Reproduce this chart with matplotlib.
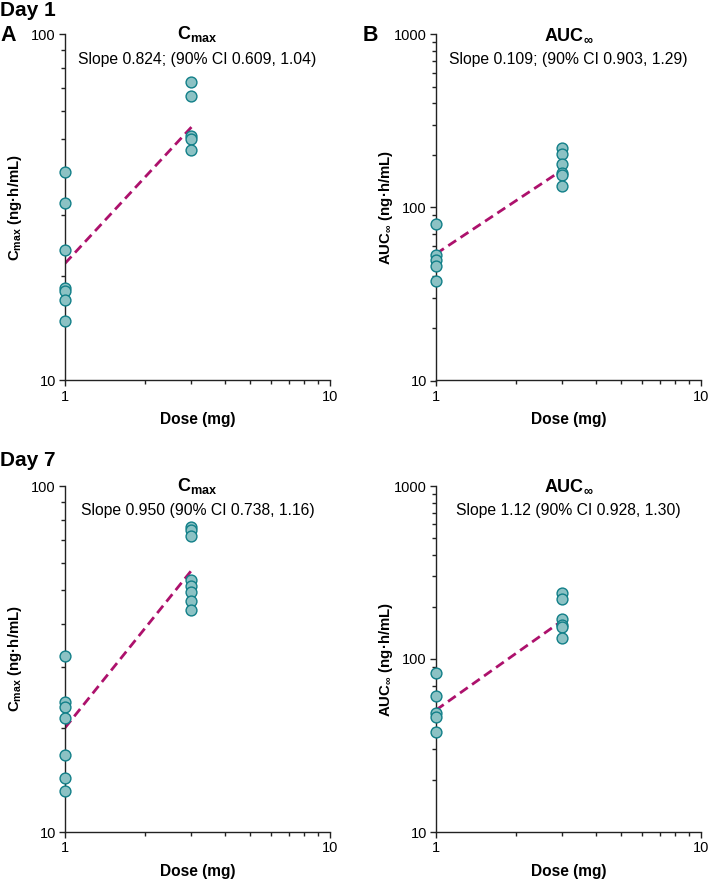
import matplotlib
matplotlib.use('Agg')
import matplotlib.pyplot as plt
from matplotlib.ticker import FixedLocator, NullFormatter, FixedFormatter, LogLocator

plt.rcParams['font.family'] = ['Liberation Sans', 'DejaVu Sans']
plt.rcParams['mathtext.fontset'] = 'custom'
plt.rcParams['mathtext.rm'] = 'Liberation Sans'
plt.rcParams['mathtext.bf'] = 'Liberation Sans:bold'

# Datos
doses = [1, 3]

d1_cmax_1 = [40.0, 32.5, 23.9, 18.5, 18.1, 17.1, 14.9]
d1_cmax_3 = [73.1, 66.3, 50.9, 49.8, 46.3]
d1_cmax_fit = [21.8, 54.0]

d1_auc_1 = [80.0, 52.9, 49.4, 46.0, 37.6]
d1_auc_3 = [222, 205, 178, 159, 155, 134]
d1_auc_fit = [54.0, 165]

d7_cmax_1 = [32.2, 23.7, 22.9, 21.4, 16.7, 14.3, 13.1]
d7_cmax_3 = [76.1, 74.6, 71.6, 53.5, 51.5, 49.4, 46.4, 43.8]
d7_cmax_fit = [20.0, 57.0]

d7_auc_1 = [82.6, 60.8, 48.6, 46.5, 37.8]
d7_auc_3 = [240, 222, 170, 157, 154, 132]
d7_auc_fit = [50.7, 167]

titles = [r'$\mathbf{C_{max}}$', r'$\mathbf{AUC_{\infty}}$',
          r'$\mathbf{C_{max}}$', r'$\mathbf{AUC_{\infty}}$']
slopes = ['Slope 0.824; (90% CI 0.609, 1.04)',
          'Slope 0.109; (90% CI 0.903, 1.29)',
          'Slope 0.950 (90% CI 0.738, 1.16)',
          'Slope 1.12 (90% CI 0.928, 1.30)']
ylabels = [r'$\mathbf{C_{max}}$ (ng·h/mL)', r'$\mathbf{AUC_{\infty}}$ (ng·h/mL)',
           r'$\mathbf{C_{max}}$ (ng·h/mL)', r'$\mathbf{AUC_{\infty}}$ (ng·h/mL)']
yticks = [[10, 100], [10, 100, 1000], [10, 100], [10, 100, 1000]]

pts1 = [d1_cmax_1, d1_auc_1, d7_cmax_1, d7_auc_1]
pts3 = [d1_cmax_3, d1_auc_3, d7_cmax_3, d7_auc_3]
fits = [d1_cmax_fit, d1_auc_fit, d7_cmax_fit, d7_auc_fit]

face = '#8cc2c4'
edge = '#117f88'
linec = '#ad116c'

W, H = 709, 880
fig = plt.figure(figsize=(W / 100, H / 100), dpi=100)

lefts = [65, 436, 65, 436]
tops = [34.5, 34.5, 486, 486]
aw, ah = 265, 346

for k in range(4):
    ax = fig.add_axes([lefts[k] / W, 1 - (tops[k] + ah) / H, aw / W, ah / H])
    ax.set_xscale('log')
    ax.set_yscale('log')
    ax.set_xlim(1, 10)
    ax.set_ylim(yticks[k][0], yticks[k][-1])

    ax.plot(doses, fits[k], '--', color=linec, lw=2.0, dashes=(3.4, 1.9), zorder=2)
    ax.plot([1] * len(pts1[k]), pts1[k], 'o', ms=7.8, mfc=face, mec=edge, mew=1.0,
            clip_on=False, zorder=3)
    ax.plot([3] * len(pts3[k]), pts3[k], 'o', ms=7.8, mfc=face, mec=edge, mew=1.0,
            clip_on=False, zorder=3)

    for s in ['top', 'right']:
        ax.spines[s].set_visible(False)
    for s in ['left', 'bottom']:
        ax.spines[s].set_linewidth(1.0)
        ax.spines[s].set_color('#222222')

    ax.xaxis.set_major_locator(FixedLocator([1, 10]))
    ax.xaxis.set_major_formatter(FixedFormatter(['1', '10']))
    ax.xaxis.set_minor_locator(LogLocator(base=10, subs=range(2, 10)))
    ax.xaxis.set_minor_formatter(NullFormatter())
    ax.yaxis.set_major_locator(FixedLocator(yticks[k]))
    ax.yaxis.set_major_formatter(FixedFormatter([str(v) for v in yticks[k]]))
    ax.yaxis.set_minor_locator(LogLocator(base=10, subs=range(2, 10)))
    ax.yaxis.set_minor_formatter(NullFormatter())
    ax.tick_params(which='major', length=4.5, width=1.0, labelsize=10.5, pad=2, color='#222222')
    ax.tick_params(which='minor', length=3, width=1.0, color='#222222')

    ax.text(0.5, 1.0, titles[k], transform=ax.transAxes, ha='center', va='center',
            fontsize=13)
    ax.text(0.5, 0.928, slopes[k], transform=ax.transAxes, ha='center', va='center',
            fontsize=11.3)

    ax.set_xlabel('Dose (mg)', fontsize=11.2, fontweight='bold')
    ax.xaxis.set_label_coords(0.5, -0.113)
    ax.xaxis.label.set_va('center')
    ax.set_ylabel(ylabels[k], fontsize=10.8, fontweight='bold')
    ax.yaxis.set_label_coords(-0.19, 0.5)
    ax.yaxis.label.set_va('center')

fig.text(0.0, 1 - 10.5 / H, 'Day 1', fontsize=15, fontweight='bold', va='center', ha='left')
fig.text(0.0, 1 - 35.5 / H, 'A', fontsize=15.5, fontweight='bold', va='center', ha='left')
fig.text(363 / W, 1 - 35.5 / H, 'B', fontsize=15.5, fontweight='bold', va='center', ha='left')
fig.text(0.0, 1 - 460 / H, 'Day 7', fontsize=15, fontweight='bold', va='center', ha='left')

fig.savefig('out.png', dpi=100)
